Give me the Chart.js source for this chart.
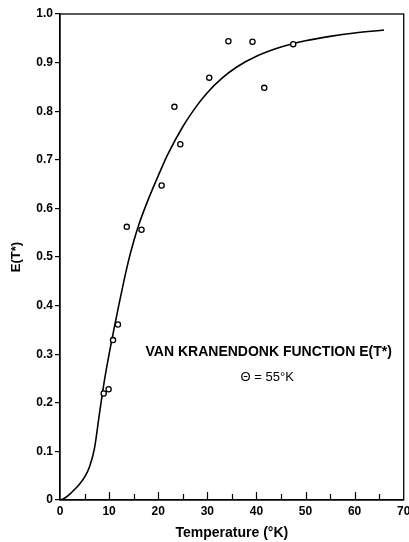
<!DOCTYPE html>
<html>
<head>
<meta charset="utf-8">
<script src="https://cdn.jsdelivr.net/npm/chart.js@4.4.1/dist/chart.umd.min.js"></script>
<style>
  html, body { margin: 0; padding: 0; background: #fff; }
  #wrap { width: 409px; height: 542px; }
</style>
</head>
<body>
<div id="wrap"><canvas id="vkChart"></canvas></div>
<script>
// Van Kranendonk curve
const curveT = [0, 1, 2, 3, 4, 5, 6, 7, 8, 9, 10, 11, 12, 13, 14, 15, 16, 18, 20, 22, 25, 28, 30, 33, 36, 40, 45, 50, 55, 60, 66];
const curveE = [0, 0.004, 0.012, 0.022, 0.033, 0.047, 0.068, 0.105, 0.175, 0.243, 0.30, 0.352, 0.402, 0.45, 0.494, 0.532, 0.565, 0.619, 0.667, 0.712, 0.768, 0.813, 0.838, 0.868, 0.891, 0.913, 0.932, 0.945, 0.954, 0.961, 0.967];

// measured points (open circles)
const measT = [8.9, 9.9, 10.8, 11.8, 13.6, 16.6, 20.7, 23.3, 24.5, 30.4, 34.3, 39.2, 41.6, 47.5];
const measE = [0.219, 0.228, 0.329, 0.361, 0.562, 0.556, 0.647, 0.809, 0.732, 0.869, 0.944, 0.943, 0.848, 0.938];

const xMinorTicks = [5, 10, 15, 20, 25, 30, 35, 40, 45, 50, 55, 60, 65];
const labelTitle = 'VAN KRANENDONK FUNCTION E(T*)';
const labelTheta = '\u0398 = 55\u00b0K';

const FONT = '"Liberation Sans", Arial, sans-serif';

function toXY(xs, ys) {
    return xs.map((x, i) => ({ x: x, y: ys[i] }));
}

// frame, inward x ticks and the caption
const extrasPlugin = {
    id: 'extras',
    afterDraw(chart) {
        const ctx = chart.ctx;
        const area = chart.chartArea;
        const xs = chart.scales.x;
        const ys = chart.scales.y;
        ctx.save();
        ctx.strokeStyle = '#000';
        ctx.lineWidth = 1.3;
        ctx.strokeRect(area.left, area.top, area.right - area.left, area.bottom - area.top);

        ctx.lineWidth = 1.2;
        xMinorTicks.forEach(v => {
            const px = Math.round(xs.getPixelForValue(v)) + 0.5;
            const len = v % 10 === 0 ? 8 : 6;
            ctx.beginPath();
            ctx.moveTo(px, area.bottom);
            ctx.lineTo(px, area.bottom - len);
            ctx.stroke();
        });

        ctx.fillStyle = '#000';
        ctx.textAlign = 'center';
        ctx.textBaseline = 'middle';
        ctx.font = 'bold 14px ' + FONT;
        ctx.fillText(labelTitle, xs.getPixelForValue(42.5), ys.getPixelForValue(0.305));
        ctx.font = '13px ' + FONT;
        ctx.fillText(labelTheta, xs.getPixelForValue(42.2), ys.getPixelForValue(0.253));
        ctx.restore();
    }
};

const ctx = document.getElementById('vkChart').getContext('2d');
new Chart(ctx, {
    type: 'scatter',
    data: {
        datasets: [
            {
                label: 'Measured',
                data: toXY(measT, measE),
                pointStyle: 'circle',
                pointRadius: 2.6,
                pointBackgroundColor: '#fff',
                pointBorderColor: '#000',
                pointBorderWidth: 1.3,
                showLine: false,
                order: 0
            },
            {
                label: 'E(T*)',
                data: toXY(curveT, curveE),
                showLine: true,
                borderColor: '#000',
                borderWidth: 1.6,
                pointRadius: 0,
                cubicInterpolationMode: 'monotone',
                fill: false,
                order: 1
            }
        ]
    },
    options: {
        responsive: true,
        maintainAspectRatio: false,
        animation: false,
        layout: { padding: { top: 14, right: 1, left: 0, bottom: 0 } },
        plugins: {
            legend: { display: false },
            tooltip: { enabled: false }
        },
        scales: {
            x: {
                type: 'linear',
                min: 0,
                max: 70,
                grid: { display: false, drawTicks: false },
                border: { display: true, color: '#000', width: 1.3 },
                ticks: {
                    stepSize: 10,
                    padding: 4,
                    maxRotation: 0,
                    color: '#000',
                    font: { family: FONT, size: 12, weight: 'bold' }
                },
                title: {
                    display: true,
                    text: 'Temperature (\u00b0K)',
                    color: '#000',
                    font: { family: FONT, size: 14, weight: 'bold' },
                    padding: { top: 0, bottom: 0 }
                },
                afterFit: function(scale) {
                    scale.height = 42;
                    scale.paddingLeft = 0;
                    scale.paddingRight = 0;
                }
            },
            y: {
                type: 'linear',
                min: 0,
                max: 1.0,
                grid: {
                    display: true,
                    drawOnChartArea: false,
                    drawTicks: true,
                    tickLength: 5,
                    color: '#000',
                    lineWidth: 1.2
                },
                border: { display: true, color: '#000', width: 1.3 },
                ticks: {
                    stepSize: 0.1,
                    padding: 2,
                    color: '#000',
                    font: { family: FONT, size: 12, weight: 'bold' },
                    callback: function(value) {
                        return value === 0 ? '0' : value.toFixed(1);
                    }
                },
                title: {
                    display: true,
                    text: 'E(T*)',
                    color: '#000',
                    font: { family: FONT, size: 13, weight: 'bold' },
                    padding: { top: 9, bottom: 0 }
                },
                afterFit: function(scale) {
                    scale.width = 60;
                    scale.paddingTop = 0;
                    scale.paddingBottom = 0;
                }
            }
        }
    },
    plugins: [extrasPlugin]
});
</script>
</body>
</html>
